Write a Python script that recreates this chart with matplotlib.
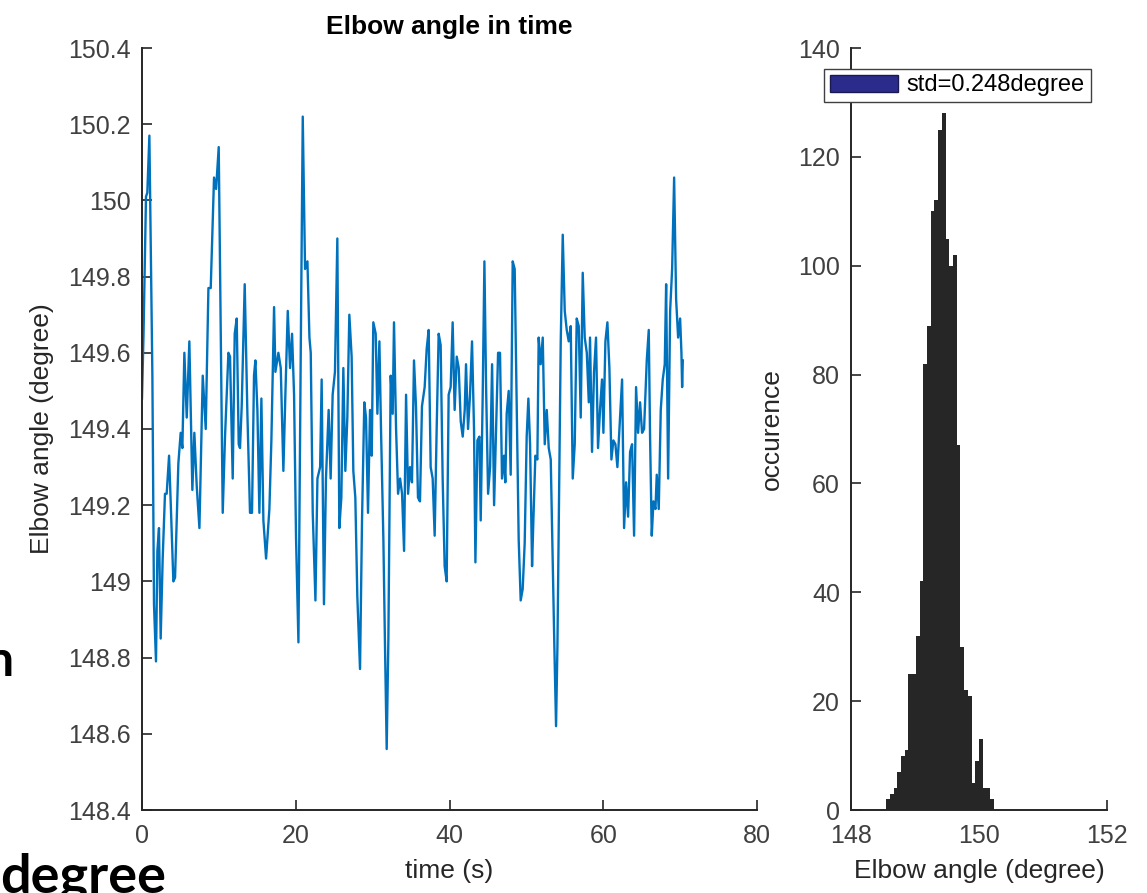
import matplotlib.pyplot as plt
from matplotlib.patches import Patch

plt.rcParams['font.family'] = ['Liberation Sans', 'DejaVu Sans']

# elbow angle trace (time in s, angle in degree)
time_s = [
    0.0, 0.2, 0.52, 0.69, 0.96, 1.17, 1.35, 1.56, 1.82, 2.0, 2.21, 2.43, 2.69, 2.99, 3.21, 3.52,
    3.73, 4.08, 4.3, 4.73, 5.03, 5.25, 5.51, 5.82, 6.16, 6.55, 6.81, 7.12, 7.47, 7.9, 8.29, 8.64,
    8.94, 9.37, 9.64, 9.98, 10.5, 10.8, 11.24,
    11.45, 11.8, 12.06, 12.32, 12.58, 12.75, 12.97, 13.36, 13.71, 14.05, 14.31, 14.57, 14.75, 15.01,
    15.27, 15.53, 15.79, 16.14, 16.57, 16.83, 17.18, 17.35, 17.74, 18.05, 18.39, 18.65, 18.96, 19.26,
    19.52, 19.78, 20.04, 20.35, 20.65, 20.91, 21.21, 21.52, 21.78, 21.95, 22.21, 22.56, 22.82, 23.17,
    23.37, 23.67, 23.93, 24.28, 24.54, 24.8, 25.1, 25.41, 25.67, 25.93, 26.19, 26.45, 26.71, 26.97,
    27.27, 27.49, 27.75, 28.01, 28.36, 28.62, 28.92, 29.14, 29.4, 29.66, 29.88, 30.09, 30.4, 30.62,
    30.88, 31.09, 31.4, 31.61, 31.83, 32.05, 32.35, 32.61, 32.78, 33.05, 33.31, 33.57, 33.83, 34.09,
    34.35, 34.61,
    34.86, 35.12, 35.38, 35.64, 35.9, 36.16, 36.42, 36.77, 37.03, 37.29, 37.55, 37.81, 38.07, 38.33,
    38.59, 38.85, 39.11, 39.37, 39.63, 39.89, 40.15, 40.41, 40.67, 40.94, 41.2, 41.46, 41.72, 41.98,
    42.15, 42.41, 42.67, 42.93, 43.19, 43.37, 43.63, 43.89, 44.06, 44.32, 44.54, 44.76, 45.02, 45.28,
    45.54, 45.8, 46.06, 46.32,
    46.57, 46.83, 47.09, 47.26, 47.44, 47.7, 47.96, 48.22, 48.48, 48.74, 49.0, 49.26, 49.52, 49.78,
    50.04, 50.26, 50.48, 50.74, 50.91, 51.17, 51.43, 51.6, 51.86, 52.13, 52.39, 52.65, 52.91, 53.17,
    53.43, 53.64, 53.86, 54.04, 54.21, 54.47, 54.73, 54.99, 55.25, 55.51, 55.77, 56.03, 56.29, 56.55,
    56.81, 57.07, 57.33, 57.59, 57.86, 58.12,
    58.28, 58.54, 58.8, 59.06, 59.32, 59.58, 59.84, 60.02, 60.28, 60.54, 60.8, 61.06, 61.32, 61.58,
    61.84, 62.1, 62.45, 62.71, 62.97, 63.23, 63.49, 63.75, 64.01, 64.27, 64.53, 64.79, 65.05, 65.31,
    65.66, 65.92, 66.09, 66.31, 66.53, 66.79, 66.96, 67.22, 67.48, 67.74, 68.0, 68.18, 68.44, 68.7,
    68.96, 69.22, 69.48, 69.74, 70.0, 70.17, 70.26, 70.35,
]
angle_deg = [
    149.48, 149.65, 150.01, 150.02, 150.17, 149.82, 149.54, 148.94, 148.79, 149.08, 149.14, 148.85,
    149.06, 149.23, 149.23, 149.33, 149.21, 149.0, 149.01, 149.31, 149.39, 149.35, 149.6, 149.43,
    149.63, 149.24, 149.39, 149.25, 149.14, 149.54, 149.4, 149.77, 149.77, 150.06, 150.03, 150.14,
    149.18, 149.38, 149.6,
    149.59, 149.27, 149.65, 149.69, 149.36, 149.35, 149.46, 149.78, 149.44, 149.18, 149.18, 149.54,
    149.58, 149.45, 149.18, 149.48, 149.16, 149.06, 149.19, 149.37, 149.72, 149.55, 149.6, 149.56,
    149.29, 149.49, 149.71, 149.56, 149.65, 149.49, 149.11, 148.84, 149.6, 150.22, 149.82, 149.84,
    149.64, 149.6, 149.18, 148.95, 149.27, 149.3,
    149.53, 148.94, 149.27, 149.45, 149.27, 149.49, 149.55, 149.9, 149.14, 149.22, 149.56, 149.29,
    149.43, 149.7, 149.59, 149.29, 149.22, 148.96, 148.77, 149.16, 149.47, 149.43, 149.18, 149.45,
    149.33, 149.68, 149.65, 149.44, 149.63, 149.4, 149.11, 148.83, 148.56, 148.85, 149.54, 149.44,
    149.68, 149.4, 149.23, 149.27, 149.23, 149.08, 149.49, 149.23,
    149.3, 149.26, 149.58, 149.46, 149.22, 149.21, 149.46, 149.51, 149.61, 149.66, 149.3, 149.27,
    149.12, 149.4, 149.65, 149.62, 149.27, 149.04, 149.0, 149.49, 149.51, 149.68, 149.45, 149.59,
    149.56, 149.42, 149.38, 149.45, 149.57, 149.4, 149.49, 149.63, 149.4, 149.05, 149.37, 149.38,
    149.16, 149.49, 149.84, 149.51, 149.23, 149.3, 149.57, 149.2, 149.4, 149.6,
    149.6, 149.27, 149.33, 149.26, 149.44, 149.5, 149.28, 149.84, 149.82, 149.47, 149.11, 148.95,
    148.98, 149.1, 149.38, 149.48, 149.36, 149.04, 149.16, 149.33, 149.32, 149.64, 149.57, 149.64,
    149.36, 149.45, 149.35, 149.32, 149.05, 148.83, 148.62, 148.83, 149.15, 149.63, 149.91, 149.71,
    149.66, 149.63, 149.67, 149.27, 149.36, 149.69, 149.67, 149.43, 149.81, 149.64, 149.6, 149.47,
    149.64, 149.34, 149.55, 149.64, 149.35, 149.45, 149.53, 149.39, 149.63, 149.68, 149.56, 149.32,
    149.37, 149.36, 149.3, 149.4, 149.53, 149.14, 149.26, 149.17, 149.34, 149.36, 149.12, 149.51,
    149.39, 149.47, 149.39, 149.4, 149.58, 149.66, 149.38, 149.12, 149.21, 149.19, 149.28, 149.19,
    149.45, 149.53, 149.57, 149.78, 149.27, 149.71, 149.82, 150.06, 149.74, 149.64, 149.69, 149.6,
    149.51, 149.58,
]

# histogram of the same angles
bin_edges = [148.550, 148.608, 148.666, 148.724, 148.782, 148.840, 148.898, 148.956, 149.014,
             149.072, 149.130, 149.188, 149.246, 149.304, 149.362, 149.420, 149.478, 149.536,
             149.594, 149.652, 149.710, 149.768, 149.826, 149.884, 149.942, 150.000, 150.058,
             150.116, 150.174, 150.232]
bin_counts = [2, 3, 4, 7, 10, 11, 25, 25, 32, 42, 82, 89, 110, 112, 125, 128, 105, 100, 102,
              67, 30, 22, 21, 5, 9, 13, 4, 4, 2]

ts_xticks = [0, 20, 40, 60, 80]
ts_yticks = [148.4, 148.6, 148.8, 149.0, 149.2, 149.4, 149.6, 149.8, 150.0, 150.2, 150.4]
ts_ylabels = ['148.4', '148.6', '148.8', '149', '149.2', '149.4', '149.6', '149.8', '150',
              '150.2', '150.4']
hist_xticks = [148, 150, 152]
hist_yticks = [0, 20, 40, 60, 80, 100, 120, 140]
legend_label = 'std=0.248degree'

axis_col = '#262626'
tick_col = '#404040'

fig = plt.figure(figsize=(11.47, 8.93), dpi=100)
ax1 = fig.add_axes([142 / 1147, 83 / 893, 615 / 1147, 762 / 893])
ax2 = fig.add_axes([851 / 1147, 83 / 893, 256 / 1147, 762 / 893])

ax1.plot(time_s, angle_deg, color='#0072BD', lw=1.7)
ax1.set_xlim(0, 80)
ax1.set_ylim(148.4, 150.4)
ax1.set_xticks(ts_xticks)
ax1.set_yticks(ts_yticks)
ax1.set_yticklabels(ts_ylabels)
ax1.set_xlabel('time (s)', fontsize=19, color=axis_col, labelpad=8)
ax1.set_ylabel('Elbow angle (degree)', fontsize=19, color=axis_col, labelpad=10)
ax1.set_title('Elbow angle in time', fontsize=19, fontweight='bold', pad=10)

ax2.hist(bin_edges[:-1], bins=bin_edges, weights=bin_counts, histtype='stepfilled',
         color='#262626', lw=0)
ax2.set_xlim(148, 152)
ax2.set_ylim(0, 140)
ax2.set_xticks(hist_xticks)
ax2.set_yticks(hist_yticks)
ax2.set_xlabel('Elbow angle (degree)', fontsize=19, color=axis_col, labelpad=8)
ax2.set_ylabel('occurence', fontsize=19, color=axis_col, labelpad=10)

handle = Patch(facecolor='#2b2b8c', edgecolor='#1a1a50')
leg = ax2.legend([handle], [legend_label], loc='upper left', bbox_to_anchor=(-0.105, 0.973),
                 fontsize=17, fancybox=False, framealpha=1, edgecolor='#404040',
                 handlelength=2.9, handleheight=0.75, handletextpad=0.35, borderpad=0.25,
                 borderaxespad=0)
leg.get_frame().set_linewidth(1.0)

for ax in (ax1, ax2):
    for s in ('top', 'right'):
        ax.spines[s].set_visible(False)
    for s in ('left', 'bottom'):
        ax.spines[s].set_color(axis_col)
        ax.spines[s].set_linewidth(1.4)
    ax.tick_params(direction='in', length=7, width=1.2, colors=axis_col, labelsize=18,
                   labelcolor=tick_col)
    ax.tick_params(axis='x', pad=10)
    ax.tick_params(axis='y', pad=8)

# stray text fragments cut at the edge of the original picture
fig.text(-14, 893 - 662, 'n', transform=None, fontsize=36, fontweight='bold',
         family='Lato', va='center', ha='left')
fig.text(0, 893 - 893, 'degree', transform=None, fontsize=39, fontweight='bold',
         family='Lato', va='baseline', ha='left')

fig.savefig('out.png', dpi=100)
